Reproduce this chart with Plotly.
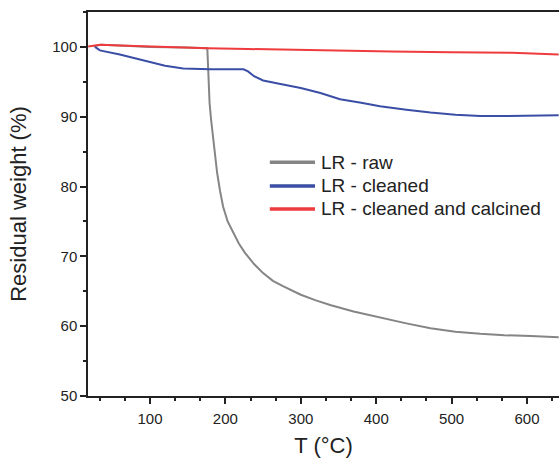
import plotly.graph_objects as go

# Data
raw_T = [25, 35, 60, 100, 150, 176, 177.5, 179, 181, 185, 189, 193, 197, 203, 210, 218, 226, 238, 250, 263, 277, 300, 320, 340, 370, 405, 440, 472, 505, 538, 570, 605, 625, 642]
raw_W = [100.1, 100.3, 100.2, 100.0, 99.9, 99.8, 96.0, 92.0, 89.6, 85.5, 82.0, 79.3, 77.1, 75.0, 73.4, 71.8, 70.5, 68.9, 67.6, 66.5, 65.7, 64.5, 63.7, 63.0, 62.1, 61.2, 60.4, 59.7, 59.2, 58.9, 58.7, 58.6, 58.5, 58.4]

cleaned_T = [27, 33.6, 60, 96, 120, 144, 180, 224, 230, 238, 250, 273, 300, 326, 352, 380, 405, 440, 472, 505, 538, 570, 605, 642]
cleaned_W = [100.0, 99.5, 98.9, 97.9, 97.3, 96.9, 96.8, 96.8, 96.5, 95.8, 95.2, 94.7, 94.1, 93.4, 92.5, 92.0, 91.5, 91.0, 90.6, 90.3, 90.1, 90.1, 90.2, 90.2]

calcined_T = [18, 25, 34, 60, 100, 176, 230, 273, 350, 420, 500, 580, 642]
calcined_W = [100.05, 100.2, 100.3, 100.2, 100.05, 99.8, 99.7, 99.6, 99.45, 99.35, 99.25, 99.15, 98.9]

series_names = ["LR - raw", "LR - cleaned", "LR - cleaned and calcined"]
series_colors = ["#858585", "#3b4ea6", "#ee3b3d"]

x_ticks = [100, 200, 300, 400, 500, 600]
y_ticks = [50, 60, 70, 80, 90, 100]

fig = go.Figure()
for T, W, name, color in zip([raw_T, cleaned_T, calcined_T],
                             [raw_W, cleaned_W, calcined_W],
                             series_names, series_colors):
    fig.add_trace(go.Scatter(x=T, y=W, mode="lines", name=name,
                             line=dict(color=color, width=2)))

# Manual legend (paper coordinates)
legend_y = [0.609, 0.547, 0.487]
shapes = []
annotations = []
for name, color, ly in zip(series_names, series_colors, legend_y):
    shapes.append(dict(type="line", xref="paper", yref="paper",
                       x0=0.386, x1=0.482, y0=ly, y1=ly,
                       line=dict(color=color, width=3.5)))
    annotations.append(dict(xref="paper", yref="paper", x=0.490, y=ly,
                            xanchor="left", yanchor="middle", showarrow=False,
                            text=name, font=dict(size=19, color="#222222")))

axis_font = dict(family="Liberation Sans, Arial, sans-serif", size=15, color="#222222")
fig.update_layout(
    width=559, height=458,
    margin=dict(l=88, r=0, t=12, b=62),
    plot_bgcolor="white", paper_bgcolor="white",
    font=dict(family="Liberation Sans, Arial, sans-serif", color="#222222"),
    showlegend=False,
    shapes=shapes, annotations=annotations,
    xaxis=dict(range=[17.8, 642.4], tickvals=x_ticks, ticks="outside", ticklen=6,
               tickwidth=1.5, tickcolor="#222222", showline=True, linecolor="#222222",
               linewidth=1.5, mirror=True, showgrid=False, zeroline=False,
               tickfont=axis_font, automargin=False, ticklabelstandoff=2,
               minor=dict(dtick=100/3, tick0=0, ticks="outside", ticklen=3.5,
                          tickwidth=1.5, tickcolor="#222222", showgrid=False),
               title=dict(text="T (°C)", font=dict(size=22, color="#222222"), standoff=13)),
    yaxis=dict(range=[50, 105], tickvals=y_ticks, ticks="outside", ticklen=6,
               tickwidth=1.5, tickcolor="#222222", showline=True, linecolor="#222222",
               linewidth=1.5, showgrid=False, zeroline=False,
               tickfont=axis_font, automargin=False,
               minor=dict(dtick=5, tick0=0, ticks="outside", ticklen=3.5,
                          tickwidth=1.5, tickcolor="#222222", showgrid=False),
               title=dict(text="Residual weight (%)", font=dict(size=22, color="#222222"), standoff=20)),
)

fig.write_html("out.html", config={"displayModeBar": False},
               post_script="document.body.style.margin='0';document.body.style.overflow='hidden';")
